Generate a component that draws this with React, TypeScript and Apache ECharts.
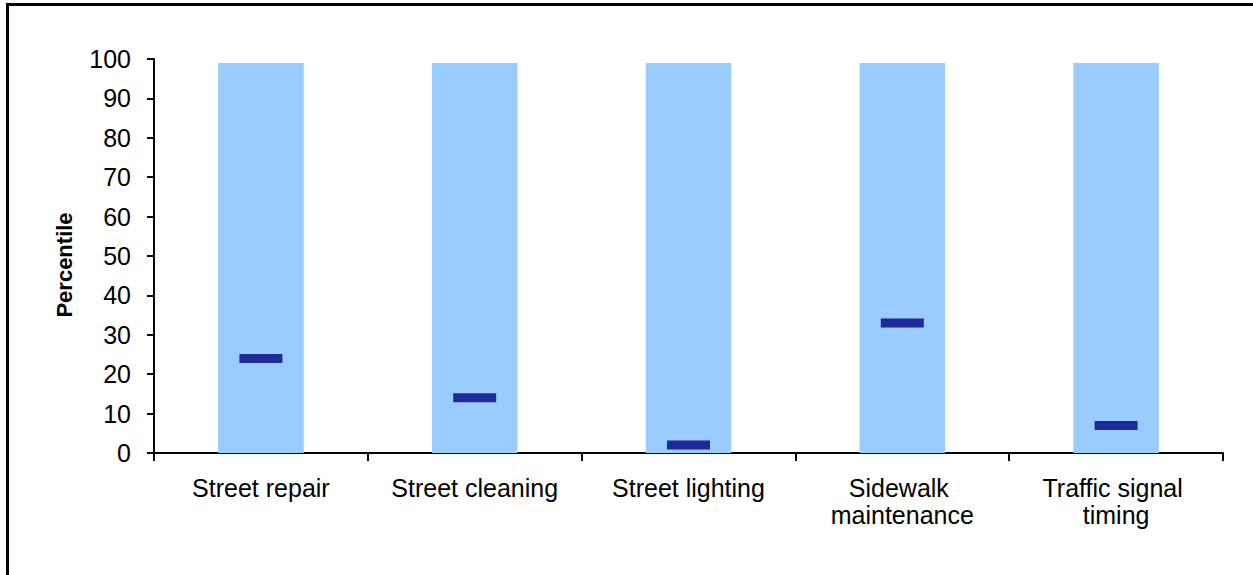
import React, { useEffect, useRef } from "react";
import * as echarts from "echarts";

const categories = [
  "Street repair",
  "Street cleaning",
  "Street lighting",
  "Sidewalk maintenance",
  "Traffic signal timing",
];
const rangeValues = [99, 99, 99, 99, 99];
const percentileValues = [24, 14, 2, 33, 7];
const yTicks = { min: 0, max: 100, interval: 10 };
const axisTitle = "Percentile";

const FONT = "'Liberation Sans', Arial, sans-serif";

export default function App() {
  const ref = useRef<HTMLDivElement>(null);
  useEffect(() => {
    if (!ref.current) return;
    const chart = echarts.init(ref.current, null, { renderer: "svg" });
    chart.setOption({
      animation: false,
      backgroundColor: "#ffffff",
      textStyle: { fontFamily: FONT, color: "#000" },
      grid: { left: 154, right: 30, top: 59, bottom: 122 },
      xAxis: {
        type: "category",
        data: categories,
        axisLine: { lineStyle: { color: "#000", width: 2 } },
        axisTick: { show: true, length: 8, lineStyle: { color: "#000", width: 2 } },
        axisLabel: {
          color: "#000",
          fontSize: 25,
          fontFamily: FONT,
          margin: 21,
          lineHeight: 27,
          width: 200,
          overflow: "break",
          interval: 0,
        },
        splitLine: { show: false },
      },
      yAxis: {
        type: "value",
        min: yTicks.min,
        max: yTicks.max,
        interval: yTicks.interval,
        axisLine: { show: true, lineStyle: { color: "#000", width: 2 } },
        axisTick: { show: true, length: 7, lineStyle: { color: "#000", width: 2 } },
        axisLabel: { color: "#000", fontSize: 25, fontFamily: FONT, margin: 23 },
        splitLine: { show: false },
      },
      graphic: [
        {
          type: "rect",
          shape: { x: 7.5, y: 4.5, width: 1300, height: 700 },
          style: { fill: "none", stroke: "#000", lineWidth: 3 },
          silent: true,
        },
        {
          type: "text",
          x: 64,
          y: 265,
          rotation: Math.PI / 2,
          style: {
            text: axisTitle,
            fontSize: 22,
            fontWeight: "bold",
            fontFamily: FONT,
            fill: "#000",
            textAlign: "center",
            textVerticalAlign: "middle",
          },
        },
      ],
      series: [
        {
          type: "bar",
          data: rangeValues,
          barWidth: "40%",
          itemStyle: { color: "#99CCFF" },
          silent: true,
        },
        {
          type: "scatter",
          data: percentileValues,
          symbol: "rect",
          symbolSize: [43, 9],
          itemStyle: { color: "#000080" },
          z: 5,
          silent: true,
        },
      ],
    });
    return () => chart.dispose();
  }, []);
  return (
    <div
      ref={ref}
      style={{ position: "absolute", left: 0, top: 0, width: 1253, height: 575 }}
    />
  );
}
